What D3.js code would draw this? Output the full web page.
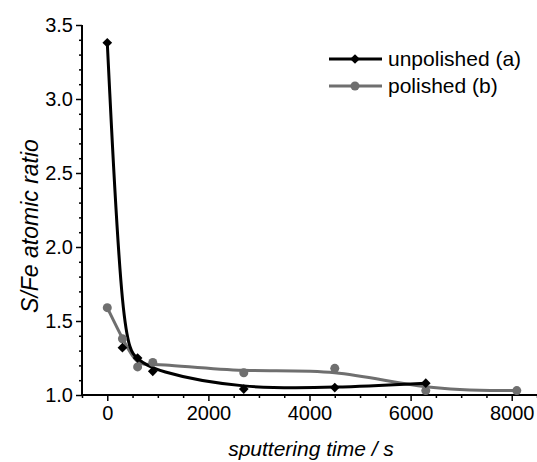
<!DOCTYPE html>
<html><head><meta charset="utf-8">
<script src="https://cdn.jsdelivr.net/npm/d3@7"></script>
<style>body{margin:0;background:#fff}svg{display:block}</style>
</head><body>
<script>
const timesA = [0, 300, 600, 900, 2700, 4500, 6300];
const ratioA = [3.38, 1.32, 1.25, 1.16, 1.04, 1.05, 1.08];
const timesB = [0, 300, 600, 900, 2700, 4500, 6300, 8100];
const ratioB = [1.59, 1.38, 1.19, 1.22, 1.15, 1.18, 1.03, 1.03];
const xTicks = [0, 2000, 4000, 6000, 8000];
const yTicks = [1.0, 1.5, 2.0, 2.5, 3.0, 3.5];
const seriesNames = ["unpolished (a)", "polished (b)"];

const W = 537, H = 462;
const svg = d3.select("body").append("svg").attr("width", W).attr("height", H);
const x = d3.scaleLinear().domain([-500, 8500]).range([82, 537]);
const y = d3.scaleLinear().domain([1.0, 3.5]).range([395, 25]);
const font = "Arial, 'Liberation Sans', sans-serif";

const xMinor = d3.range(-500, 8501, 500).filter(v => v % 2000 !== 0);
const yMinor = d3.range(10, 36).map(v => v / 10).filter(v => Math.abs(v * 2 - Math.round(v * 2)) > 1e-6);

const xAxis = svg.append("g").attr("transform", "translate(0,395)");
xAxis.call(d3.axisBottom(x).tickValues(xMinor).tickSize(3).tickFormat(""));
xAxis.append("g").call(d3.axisBottom(x).tickValues(xTicks).tickSize(6).tickPadding(5).tickFormat(d3.format("d")));
xAxis.selectAll("path.domain").attr("stroke", "#000").attr("stroke-width", 2).attr("d", "M82,0H537");
xAxis.selectAll("line").attr("stroke", "#000").attr("stroke-width", 1.5);
xAxis.selectAll("text").attr("font-family", font).attr("font-size", 20).attr("fill", "#000");

const yAxis = svg.append("g").attr("transform", "translate(82,0)");
yAxis.call(d3.axisLeft(y).tickValues(yMinor).tickSize(3).tickFormat(""));
yAxis.append("g").call(d3.axisLeft(y).tickValues(yTicks).tickSize(6).tickPadding(3).tickFormat(d3.format(".1f")));
yAxis.selectAll("path.domain").attr("stroke", "#000").attr("stroke-width", 2).attr("d", "M0,395V25");
yAxis.selectAll("line").attr("stroke", "#000").attr("stroke-width", 1.5);
yAxis.selectAll("text").attr("font-family", font).attr("font-size", 20).attr("fill", "#000");

const line = d3.line().x(d => x(d[0])).y(d => y(d[1])).curve(d3.curveBasis);
const dataA = timesA.map((t, i) => [t, ratioA[i]]);
const dataB = timesB.map((t, i) => [t, ratioB[i]]);
const grey = "#6f6f6f";

svg.append("path").datum(dataB).attr("d", line).attr("fill", "none").attr("stroke", grey).attr("stroke-width", 3);
svg.append("path").datum(dataA).attr("d", line).attr("fill", "none").attr("stroke", "#000").attr("stroke-width", 3);

const diamond = d3.symbol().type(d3.symbolDiamond2).size(60);
svg.selectAll("circle.b").data(dataB).join("circle").attr("class", "b")
  .attr("cx", d => x(d[0])).attr("cy", d => y(d[1])).attr("r", 4.5).attr("fill", grey);
svg.selectAll("path.a").data(dataA).join("path").attr("class", "a")
  .attr("transform", d => `translate(${x(d[0])},${y(d[1])})`).attr("d", diamond).attr("fill", "#000");

const lg = svg.append("g");
const rows = [{name: seriesNames[0], c: "#000", sym: "d"}, {name: seriesNames[1], c: grey, sym: "c"}];
rows.forEach((r, i) => {
  const yy = 59 + i * 27;
  lg.append("line").attr("x1", 329).attr("x2", 382).attr("y1", yy).attr("y2", yy).attr("stroke", r.c).attr("stroke-width", 3);
  if (r.sym === "d") lg.append("path").attr("transform", `translate(355,${yy})`).attr("d", diamond).attr("fill", r.c);
  else lg.append("circle").attr("cx", 355).attr("cy", yy).attr("r", 4.5).attr("fill", r.c);
  lg.append("text").attr("x", 388).attr("y", yy + 7).text(r.name)
    .attr("font-family", font).attr("font-size", 21).attr("fill", "#000");
});

svg.append("text").attr("transform", "translate(38,226) rotate(-90)").attr("text-anchor", "middle")
  .attr("font-family", font).attr("font-size", 23).attr("font-style", "italic").text("S/Fe atomic ratio");
svg.append("text").attr("x", 311).attr("y", 456).attr("text-anchor", "middle")
  .attr("font-family", font).attr("font-size", 21).attr("font-style", "italic").text("sputtering time / s");
</script>
</body></html>
